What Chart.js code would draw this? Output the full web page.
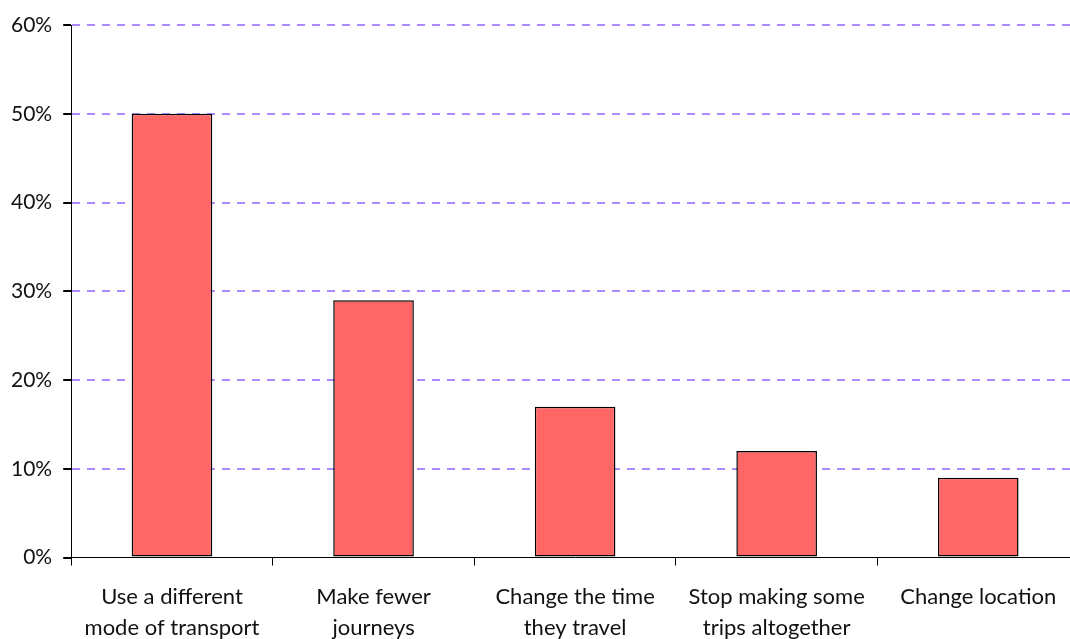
<!DOCTYPE html>
<html>
<head>
<meta charset="utf-8">
<script src="https://cdn.jsdelivr.net/npm/chart.js@4"></script>
<style>
  html, body { margin: 0; padding: 0; background: #fff; overflow: hidden; }
  #chart-content { position: relative; width: 1079px; height: 660px; }
</style>
</head>
<body>
<div id="chart-content">
  <canvas id="bar-chart"></canvas>
</div>
<script>
const categories = [
  ['Use a different', 'mode of transport'],
  ['Make fewer', 'journeys'],
  ['Change the time', 'they travel'],
  ['Stop making some', 'trips altogether'],
  ['Change location'],
];
const shares = [50, 29, 17, 12, 9];
const yTicks = [0, 10, 20, 30, 40, 50, 60];

const fontFamily = "Lato, 'Open Sans', sans-serif";

var config = {
  type: 'bar',
  data: {
    labels: categories,
    datasets: [
      {
        data: shares,
        backgroundColor: '#ff6666',
        borderColor: '#000000',
        borderWidth: 1.5,
        borderSkipped: false,
        barPercentage: 0.4,
        categoryPercentage: 1,
      },
    ],
  },
  options: {
    responsive: true,
    maintainAspectRatio: false,
    animation: false,
    layout: {
      padding: { top: 25, left: 0, right: 0, bottom: 0 },
    },
    plugins: {
      legend: { display: false },
      tooltip: { enabled: false },
    },
    scales: {
      x: {
        grid: {
          offset: true,
          drawOnChartArea: false,
          color: '#000000',
          tickLength: 8,
        },
        border: { color: '#000000', width: 1 },
        ticks: {
          color: '#111111',
          padding: 16,
          maxRotation: 0,
          autoSkip: false,
          font: { family: fontFamily, size: 22, lineHeight: 1.42 },
        },
      },
      y: {
        min: 0,
        max: 60,
        afterBuildTicks: (axis) => {
          axis.ticks = yTicks.map((v) => ({ value: v }));
        },
        grid: {
          // no dashed line on top of the solid x axis
          color: (c) => (c.tick && c.tick.value === 0 ? 'rgba(0,0,0,0)' : '#ad8aff'),
          tickColor: '#000000',
          tickLength: 8,
          lineWidth: 2,
        },
        border: { color: '#000000', width: 1, dash: [8, 7] },
        ticks: {
          color: '#111111',
          padding: 11,
          font: { family: fontFamily, size: 21 },
          callback: (v) => v + '%',
        },
      },
    },
  },
};

var ctx = document.getElementById('bar-chart').getContext('2d');
window.barChart = new Chart(ctx, config);
</script>
</body>
</html>
